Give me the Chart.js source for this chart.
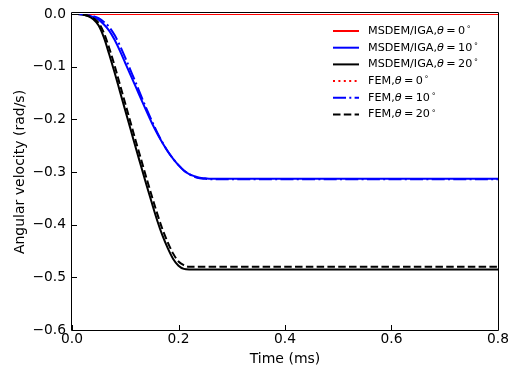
<!DOCTYPE html>
<html>
<head>
<meta charset="utf-8">
<script src="https://cdn.jsdelivr.net/npm/chart.js@4.4.1/dist/chart.umd.min.js"></script>
<style>
  html, body { margin: 0; padding: 0; background: #ffffff; }
  #wrap { width: 510px; height: 374px; }
</style>
</head>
<body>
<div id="wrap"><canvas id="c" width="510" height="374"></canvas></div>
<script>
// ---- data ----
const times = [0, 0.01, 0.02, 0.03, 0.04, 0.05, 0.06, 0.07, 0.08, 0.09,
               0.10, 0.11, 0.12, 0.13, 0.14, 0.15, 0.16, 0.17, 0.18, 0.19,
               0.20, 0.21, 0.22, 0.23, 0.24, 0.25, 0.26,
               0.3, 0.4, 0.5, 0.6, 0.7, 0.8];

const msdem0 = [0, 0, 0, 0, 0, 0, 0, 0, 0, 0, 0, 0, 0, 0, 0, 0, 0, 0, 0, 0,
                0, 0, 0, 0, 0, 0, 0, 0, 0, 0, 0, 0, 0];
const msdem10 = [0, 0, -0.001, -0.003, -0.006, -0.011, -0.020, -0.032, -0.049, -0.070,
                 -0.093, -0.116, -0.139, -0.162, -0.185, -0.207, -0.227, -0.245, -0.261, -0.275,
                 -0.287, -0.297, -0.304, -0.308, -0.311, -0.312, -0.313,
                 -0.313, -0.313, -0.313, -0.313, -0.313, -0.313];
const msdem20 = [0, 0, -0.001, -0.004, -0.010, -0.022, -0.045, -0.077, -0.111, -0.147,
                 -0.183, -0.219, -0.255, -0.290, -0.325, -0.359, -0.392, -0.421, -0.445, -0.465,
                 -0.478, -0.484, -0.485, -0.485, -0.485, -0.485, -0.485,
                 -0.485, -0.485, -0.485, -0.485, -0.485, -0.485];
const fem0 = [0, 0, 0, 0, 0, 0, 0, 0, 0, 0, 0, 0, 0, 0, 0, 0, 0, 0, 0, 0,
              0, 0, 0, 0, 0, 0, 0, 0, 0, 0, 0, 0, 0];
const fem10 = [0, 0, 0, -0.002, -0.004, -0.008, -0.015, -0.025, -0.040, -0.060,
               -0.083, -0.107, -0.131, -0.156, -0.180, -0.203, -0.225, -0.244, -0.261, -0.275,
               -0.287, -0.297, -0.304, -0.309, -0.312, -0.313, -0.314,
               -0.314, -0.314, -0.314, -0.314, -0.314, -0.314];
const fem20 = [0, 0, -0.001, -0.003, -0.008, -0.017, -0.036, -0.065, -0.098, -0.134,
               -0.170, -0.206, -0.242, -0.277, -0.312, -0.346, -0.379, -0.409, -0.434, -0.455,
               -0.470, -0.477, -0.480, -0.480, -0.480, -0.480, -0.480,
               -0.480, -0.480, -0.480, -0.480, -0.480, -0.480];

const seriesLabels = ['MSDEM/IGA,θ = 0°', 'MSDEM/IGA,θ = 10°', 'MSDEM/IGA,θ = 20°',
                      'FEM,θ = 0°', 'FEM,θ = 10°', 'FEM,θ = 20°'];
const xTicks = [0, 0.2, 0.4, 0.6, 0.8];
const yTicks = [0, -0.1, -0.2, -0.3, -0.4, -0.5, -0.6];
const xTitle = 'Time (ms)';
const yTitle = 'Angular velocity (rad/s)';

// ---- styling ----
const FONT = "'DejaVu Sans', sans-serif";
const seriesValues = [msdem0, msdem10, msdem20, fem0, fem10, fem20];
const seriesColors = ['#ff0000', '#0000ff', '#000000', '#ff0000', '#0000ff', '#000000'];
const seriesDash = [[], [], [], [2, 3.4], [13, 3.3, 2, 3.3], [7.5, 3.3]];

const datasets = seriesValues.map((vals, i) => ({
  label: seriesLabels[i],
  data: times.map((t, k) => ({ x: t, y: vals[k] })),
  borderColor: seriesColors[i],
  backgroundColor: seriesColors[i],
  borderWidth: 2,
  borderDash: seriesDash[i],
  pointRadius: 0,
  fill: false,
  cubicInterpolationMode: 'monotone',
  order: seriesValues.length - i
}));

function fmt(v) {
  if (Math.abs(v) < 1e-9) return '0.0';
  const s = Math.abs(v).toFixed(1);
  return v < 0 ? '\u2212' + s : s;
}

const framePlugin = {
  id: 'frameAndTicks',
  afterDatasetsDraw(chart) {
    const { ctx, chartArea: a } = chart;
    const xs = chart.scales.x, ys = chart.scales.y;
    ctx.save();
    ctx.strokeStyle = '#000';
    ctx.lineWidth = 1;
    // inward tick marks
    ctx.beginPath();
    xs.ticks.forEach(t => {
      const px = Math.round(xs.getPixelForValue(t.value)) + 0.5;
      ctx.moveTo(px, a.bottom); ctx.lineTo(px, a.bottom - 5);
    });
    ys.ticks.forEach(t => {
      const py = Math.round(ys.getPixelForValue(t.value)) + 0.5;
      ctx.moveTo(a.left, py); ctx.lineTo(a.left + 5, py);
    });
    ctx.stroke();
    // frame (spines on top of the lines, as in matplotlib)
    const top = Math.round(a.top) - 1.5, bot = Math.round(a.bottom) + 0.5;
    const l = Math.round(a.left) - 0.5, r = Math.round(a.right) + 0.5;
    ctx.beginPath();
    ctx.moveTo(l, top); ctx.lineTo(r, top); ctx.lineTo(r, bot);
    ctx.lineTo(l, bot); ctx.closePath();
    ctx.stroke();
    ctx.restore();
  },
  afterDraw(chart) {
    // legend in upper right, drawn from the datasets
    const { ctx } = chart;
    const x0 = 333, len = 26, tx = 368, y0 = 31, dy = 16.7;
    const fs = 11.2;
    ctx.save();
    chart.data.datasets.forEach((ds, i) => {
      const y = y0 + i * dy;
      ctx.strokeStyle = ds.borderColor;
      ctx.lineWidth = 2;
      ctx.setLineDash(ds.borderDash || []);
      ctx.beginPath();
      ctx.moveTo(x0, y); ctx.lineTo(x0 + len, y);
      ctx.stroke();
      ctx.setLineDash([]);
      const lbl = ds.label;
      const pre = lbl.split('θ')[0];
      const num = (lbl.match(/=\s*(\d+)/) || [0, ''])[1];
      ctx.fillStyle = '#000';
      ctx.textBaseline = 'middle';
      ctx.textAlign = 'left';
      let x = tx;
      ctx.font = fs + 'px ' + FONT;
      ctx.fillText(pre, x, y); x += ctx.measureText(pre).width;
      ctx.font = 'italic ' + fs + 'px ' + FONT;
      ctx.fillText('θ', x, y); x += ctx.measureText('θ').width + 2.4;
      ctx.font = fs + 'px ' + FONT;
      ctx.fillText('=', x, y); x += ctx.measureText('=').width + 2.4;
      ctx.fillText(num, x, y); x += ctx.measureText(num).width + 1.2;
      ctx.font = (fs * 0.7) + 'px ' + FONT;
      ctx.fillText('\u2218', x, y - 4);
    });
    ctx.restore();
  }
};

new Chart(document.getElementById('c'), {
  type: 'line',
  data: { datasets },
  options: {
    responsive: false,
    animation: false,
    devicePixelRatio: 1,
    layout: { padding: { left: 0, right: 12, top: 14, bottom: 0 } },
    plugins: { legend: { display: false }, tooltip: { enabled: false } },
    scales: {
      x: {
        type: 'linear',
        min: 0, max: 0.8,
        afterFit: s => { s.height = 44; s.paddingLeft = 0; s.paddingRight = 0; },
        afterBuildTicks: s => { s.ticks = xTicks.map(v => ({ value: v })); },
        grid: { display: false, drawTicks: false },
        border: { display: false },
        ticks: { color: '#000', padding: 1, maxRotation: 0, font: { family: FONT, size: 13.8 },
                 callback: v => fmt(v) },
        title: { display: true, text: xTitle, color: '#000', font: { family: FONT, size: 14 },
                 padding: { top: 0, bottom: 6 } }
      },
      y: {
        type: 'linear',
        min: -0.6, max: 0,
        afterFit: s => { s.width = 72; s.paddingTop = 0; s.paddingBottom = 0; },
        afterBuildTicks: s => { s.ticks = yTicks.map(v => ({ value: v })); },
        grid: { display: false, drawTicks: false },
        border: { display: false },
        ticks: { color: '#000', padding: 6, font: { family: FONT, size: 13.8 },
                 callback: v => fmt(v) },
        title: { display: true, text: yTitle, color: '#000', font: { family: FONT, size: 14 },
                 padding: { top: 12, bottom: 0 } }
      }
    }
  },
  plugins: [framePlugin]
});
</script>
</body>
</html>
